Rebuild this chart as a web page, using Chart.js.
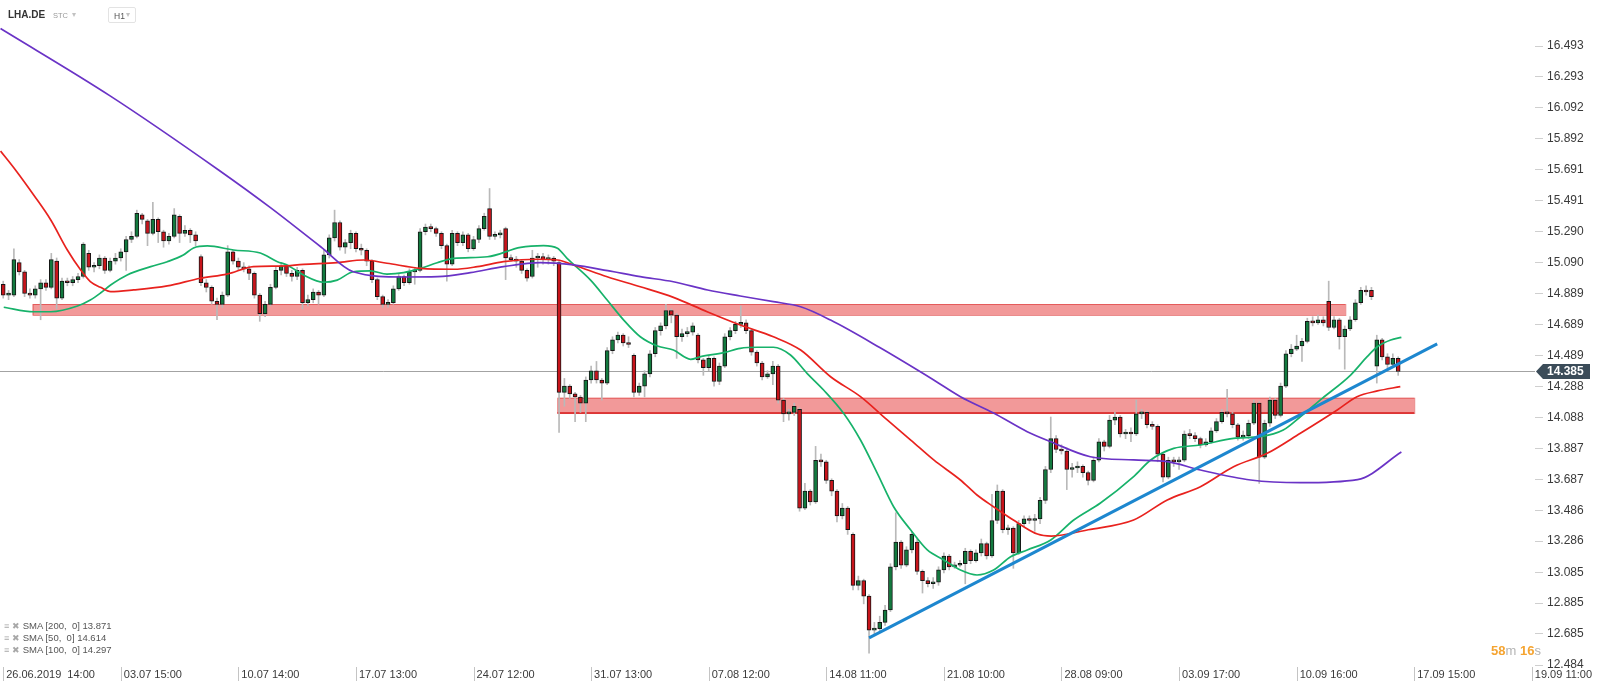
<!DOCTYPE html>
<html lang="en">
<head>
    <meta charset="UTF-8">
    <title>LHA.DE H1</title>
    <style>
        body { margin: 0; padding: 0; background: #fff; font-family: 'Liberation Sans', Arial, sans-serif; }
        .wrap { position: relative; width: 1600px; height: 690px; overflow: hidden; }
        canvas { display: block; }
        .sym { position: absolute; left: 8px; top: 9px; font-size: 10px; font-weight: bold; color: #333; }
        .stc { position: absolute; left: 53px; top: 11px; font-size: 7.5px; color: #9a9a9a; }
        .caret { position: absolute; font-size: 8px; color: #c2c2c2; }
        .tf { position: absolute; left: 108px; top: 7px; width: 28px; height: 16px; border: 1px solid #e3e3e3; border-radius: 2px; box-sizing: border-box; }
        .tf span { position: absolute; left: 5px; top: 3px; font-size: 8.5px; color: #555; }
        .legend { position: absolute; left: 4px; top: 620px; font-size: 9.5px; color: #555; line-height: 12px; }
        .legend .ico { color: #a8a8a8; font-size: 9px; margin-right: 3px; }
        .timer { position: absolute; left: 1491px; top: 643px; font-size: 13px; }
        .timer b { color: #f5a431; }
        .timer i { font-style: normal; color: #b3b3b3; }
    </style>
    <script src="https://cdn.jsdelivr.net/npm/chart.js"></script>
</head>
<body>
<div class="wrap">
    <canvas id="chart" width="1600" height="690"></canvas>
    <div class="sym">LHA.DE</div>
    <div class="stc">STC</div>
    <div class="caret" style="left:72px;top:10px;">▾</div>
    <div class="tf"><span>H1</span><div class="caret" style="left:17px;top:2px;">▾</div></div>
    <div class="legend">
        <div><span class="ico">≡ ✖</span>SMA [200,&nbsp; 0] 13.871</div>
        <div><span class="ico">≡ ✖</span>SMA [50,&nbsp; 0] 14.614</div>
        <div><span class="ico">≡ ✖</span>SMA [100,&nbsp; 0] 14.297</div>
    </div>
    <div class="timer"><b>58</b><i>m</i> <b>16</b><i>s</i></div>
</div>

<script>
// x axis: candle index, one tick label every 22 candles
const candlesPerTick = 22;
const xTickLabels = ['26.06.2019  14:00', '03.07 15:00', '10.07 14:00', '17.07 13:00', '24.07 12:00',
    '31.07 13:00', '07.08 12:00', '14.08 11:00', '21.08 10:00', '28.08 09:00', '03.09 17:00',
    '10.09 16:00', '17.09 15:00', '19.09 11:00'];
const yTicks = [16.493, 16.293, 16.092, 15.892, 15.691, 15.491, 15.290, 15.090, 14.889, 14.689,
    14.489, 14.288, 14.088, 13.887, 13.687, 13.486, 13.286, 13.085, 12.885, 12.685, 12.484];

// candles: [open, high, low, close]
const ohlc = [
    [14.95,14.97,14.86,14.88],[14.88,14.91,14.85,14.88],[14.88,15.18,14.87,15.11],[15.09,15.11,15.01,15.03],
    [15.03,15.04,14.87,14.89],[14.89,14.92,14.86,14.88],[14.88,14.94,14.86,14.92],[14.92,14.98,14.72,14.96],
    [14.96,14.98,14.91,14.93],[14.93,15.15,14.92,15.11],[15.10,15.12,14.79,14.86],[14.86,14.99,14.85,14.97],
    [14.97,14.99,14.94,14.96],[14.96,15.00,14.94,14.98],[14.98,15.02,14.96,15.00],[15.00,15.22,14.99,15.21],
    [15.15,15.17,15.04,15.06],[15.06,15.09,15.03,15.07],[15.07,15.14,15.05,15.12],[15.12,15.13,15.02,15.04],
    [15.04,15.12,15.03,15.10],[15.10,15.15,15.08,15.12],[15.12,15.18,15.10,15.16],[15.16,15.26,15.04,15.24],
    [15.24,15.29,15.22,15.26],[15.26,15.43,15.25,15.41],[15.40,15.41,15.34,15.37],[15.36,15.37,15.20,15.28],
    [15.28,15.48,15.27,15.37],[15.37,15.38,15.22,15.29],[15.29,15.30,15.19,15.23],[15.23,15.28,15.21,15.26],
    [15.26,15.44,15.25,15.40],[15.39,15.40,15.22,15.28],[15.28,15.33,15.26,15.30],[15.30,15.31,15.22,15.27],
    [15.27,15.29,15.20,15.23],[15.13,15.14,14.94,14.96],[14.96,14.98,14.90,14.93],[14.93,14.94,14.82,14.84],
    [14.84,14.86,14.72,14.82],[14.82,14.90,14.80,14.88],[14.88,15.20,14.87,15.16],[15.16,15.17,15.08,15.10],
    [15.10,15.12,15.04,15.06],[15.06,15.09,15.03,15.05],[15.05,15.07,14.98,15.02],[15.02,15.03,14.86,14.88],
    [14.88,14.89,14.71,14.76],[14.76,14.84,14.74,14.82],[14.82,14.95,14.81,14.93],[14.93,15.06,14.92,15.04],
    [15.04,15.09,15.01,15.07],[15.07,15.08,15.00,15.02],[15.02,15.04,14.97,15.00],[15.00,15.06,14.98,15.04],
    [15.04,15.05,14.79,14.83],[14.83,14.88,14.81,14.85],[14.85,14.92,14.83,14.90],[14.90,14.91,14.82,14.88],
    [14.88,15.17,14.87,15.14],[15.14,15.27,15.12,15.25],[15.25,15.43,15.23,15.35],[15.35,15.36,15.17,15.19],
    [15.19,15.24,15.15,15.22],[15.22,15.30,15.18,15.28],[15.28,15.29,15.16,15.18],[15.18,15.21,15.14,15.17],
    [15.17,15.18,15.07,15.10],[15.10,15.11,14.96,14.98],[14.98,14.99,14.85,14.87],[14.87,14.88,14.80,14.82],
    [14.82,14.85,14.80,14.83],[14.83,14.94,14.82,14.92],[14.92,15.02,14.91,15.00],[15.00,15.01,14.94,14.96],
    [14.96,15.05,14.95,15.03],[15.03,15.06,14.95,15.04],[15.04,15.31,15.03,15.29],[15.29,15.34,15.27,15.32],
    [15.32,15.34,15.29,15.31],[15.31,15.32,15.26,15.28],[15.28,15.29,15.18,15.20],[15.20,15.21,14.97,15.08],
    [15.08,15.30,15.07,15.28],[15.28,15.29,15.20,15.22],[15.22,15.29,15.20,15.27],[15.27,15.28,15.16,15.18],
    [15.18,15.26,15.17,15.24],[15.24,15.33,15.22,15.31],[15.31,15.41,15.30,15.39],[15.44,15.57,15.24,15.26],
    [15.26,15.29,15.24,15.27],[15.27,15.30,15.25,15.28],[15.31,15.32,14.98,15.12],[15.12,15.14,15.10,15.11],
    [15.11,15.13,15.06,15.10],[15.10,15.11,15.02,15.04],[15.04,15.05,14.97,14.99],[15.00,15.17,14.99,15.12],
    [15.12,15.15,15.06,15.13],[15.13,15.15,15.08,15.11],[15.11,15.14,15.08,15.12],[15.12,15.13,15.07,15.10],
    [15.09,15.10,13.99,14.25],[14.25,14.34,14.16,14.29],[14.29,14.30,14.21,14.24],[14.24,14.25,14.06,14.22],
    [14.22,14.23,14.12,14.18],[14.18,14.35,14.06,14.33],[14.33,14.42,14.31,14.39],[14.39,14.45,14.31,14.33],
    [14.33,14.34,14.20,14.31],[14.31,14.54,14.30,14.52],[14.52,14.61,14.50,14.59],[14.59,14.64,14.57,14.62],
    [14.62,14.63,14.55,14.57],[14.57,14.61,14.54,14.56],[14.49,14.50,14.22,14.25],[14.25,14.31,14.23,14.29],
    [14.29,14.39,14.22,14.37],[14.37,14.52,14.35,14.50],[14.50,14.67,14.48,14.65],[14.65,14.70,14.62,14.68],
    [14.68,14.82,14.66,14.78],[14.78,14.79,14.70,14.75],[14.75,14.76,14.47,14.61],[14.61,14.66,14.58,14.63],
    [14.63,14.67,14.61,14.64],[14.64,14.70,14.62,14.68],[14.62,14.63,14.44,14.46],[14.46,14.47,14.36,14.41],
    [14.41,14.49,14.39,14.47],[14.47,14.48,14.29,14.32],[14.32,14.44,14.30,14.42],[14.42,14.63,14.41,14.61],
    [14.61,14.67,14.59,14.65],[14.65,14.71,14.63,14.69],[14.69,14.81,14.67,14.70],[14.70,14.72,14.63,14.65],
    [14.65,14.66,14.49,14.51],[14.51,14.52,14.42,14.44],[14.44,14.45,14.33,14.35],[14.35,14.39,14.34,14.37],
    [14.37,14.45,14.30,14.42],[14.42,14.43,14.18,14.20],[14.20,14.21,14.06,14.11],[14.11,14.14,14.07,14.12],
    [14.12,14.18,14.10,14.16],[14.14,14.15,13.48,13.50],[13.50,13.66,13.49,13.61],[13.61,13.62,13.52,13.54],
    [13.54,13.90,13.53,13.81],[13.81,13.85,13.77,13.80],[13.80,13.81,13.66,13.68],[13.68,13.69,13.58,13.61],
    [13.61,13.62,13.41,13.45],[13.45,13.53,13.43,13.50],[13.50,13.51,13.33,13.36],[13.33,13.34,12.97,13.00],
    [13.00,13.06,12.97,13.03],[13.03,13.04,12.88,12.93],[12.93,12.94,12.56,12.71],[12.71,12.76,12.68,12.72],
    [12.72,12.80,12.70,12.76],[12.76,12.87,12.74,12.84],[12.84,13.14,12.83,13.12],[13.12,13.47,13.10,13.28],
    [13.28,13.29,13.11,13.13],[13.13,13.25,13.12,13.23],[13.23,13.35,13.21,13.33],[13.28,13.30,13.07,13.09],
    [13.09,13.10,12.95,13.03],[13.03,13.05,12.99,13.01],[13.01,13.05,12.98,13.02],[13.02,13.12,13.00,13.10],
    [13.10,13.21,13.08,13.19],[13.19,13.20,13.10,13.12],[13.12,13.15,13.11,13.13],[13.13,13.16,13.12,13.14],
    [13.14,13.24,13.01,13.22],[13.22,13.23,13.14,13.16],[13.16,13.23,13.15,13.21],[13.21,13.30,13.19,13.27],
    [13.27,13.28,13.17,13.19],[13.19,13.59,13.18,13.42],[13.42,13.65,13.40,13.61],[13.61,13.62,13.34,13.36],
    [13.36,13.39,13.33,13.37],[13.37,13.38,13.11,13.21],[13.21,13.42,13.20,13.40],[13.40,13.45,13.38,13.43],
    [13.43,13.45,13.40,13.42],[13.42,13.46,13.35,13.43],[13.43,13.57,13.40,13.55],[13.55,13.77,13.53,13.75],
    [13.75,14.09,13.73,13.95],[13.95,13.97,13.86,13.88],[13.88,13.91,13.85,13.87],[13.87,13.89,13.62,13.75],
    [13.75,13.79,13.70,13.76],[13.76,13.80,13.73,13.77],[13.77,13.78,13.70,13.73],[13.73,13.74,13.65,13.68],
    [13.68,13.83,13.67,13.81],[13.81,13.95,13.80,13.93],[13.93,13.94,13.87,13.90],[13.90,14.10,13.89,14.07],
    [14.07,14.12,14.04,14.09],[14.09,14.10,13.96,13.98],[13.98,14.01,13.95,13.99],[13.99,14.02,13.93,13.98],
    [13.98,14.20,13.97,14.11],[14.11,14.14,14.08,14.12],[14.12,14.13,14.02,14.04],[14.04,14.06,14.01,14.03],
    [14.03,14.04,13.80,13.85],[13.85,13.86,13.67,13.70],[13.70,13.83,13.69,13.81],[13.81,13.83,13.77,13.80],
    [13.80,13.83,13.75,13.81],[13.81,14.00,13.80,13.98],[13.98,14.01,13.95,13.97],[13.97,13.99,13.93,13.95],
    [13.95,13.96,13.89,13.91],[13.91,13.95,13.90,13.93],[13.93,14.02,13.92,14.00],[14.00,14.08,13.99,14.06],
    [14.06,14.14,14.05,14.12],[14.12,14.27,14.09,14.11],[14.11,14.12,14.02,14.04],[14.04,14.05,13.94,13.96],
    [13.96,14.00,13.94,13.97],[13.97,14.07,13.95,14.05],[14.05,14.20,14.04,14.18],[14.18,14.19,13.66,13.83],
    [13.83,14.07,13.82,14.05],[14.05,14.22,14.03,14.20],[14.20,14.21,14.08,14.10],[14.10,14.31,14.09,14.29],
    [14.29,14.52,14.28,14.50],[14.50,14.56,14.48,14.53],[14.53,14.62,14.52,14.55],[14.55,14.60,14.45,14.58],
    [14.58,14.73,14.57,14.71],[14.71,14.74,14.68,14.70],[14.70,14.75,14.69,14.72],[14.72,14.74,14.68,14.70],
    [14.84,14.97,14.65,14.67],[14.67,14.74,14.66,14.72],[14.72,14.73,14.53,14.61],[14.61,14.68,14.40,14.66],
    [14.66,14.74,14.65,14.72],[14.72,14.85,14.71,14.83],[14.83,14.93,14.82,14.91],[14.91,14.94,14.88,14.90],
    [14.91,14.93,14.85,14.87],[14.42,14.62,14.31,14.59],[14.59,14.60,14.46,14.48],[14.48,14.50,14.40,14.43],
    [14.43,14.50,14.41,14.47],[14.47,14.48,14.36,14.385]
];

// moving averages: [candle index, value]
const sma200 = [[-0.5,16.606],[20,16.17],[40.3,15.690],[50,15.446],[59.4,15.193],[65.5,15.031],[74.9,14.997],
    [81.3,14.999],[87.4,15.025],[93.6,15.064],[100.5,15.090],[106.7,15.075],[113.1,15.038],[119.2,14.999],
    [125.4,14.966],[131.8,14.913],[137.9,14.874],[144.1,14.837],[149.2,14.804],[154.8,14.718],[164,14.54],
    [174.1,14.330],[179.1,14.222],[185.3,14.116],[191.6,13.995],[196,13.930],[203.4,13.833],[211.5,13.812],
    [217.8,13.801],[224,13.747],[233.4,13.682],[242.7,13.665],[253.4,13.685],[261.6,13.863]];
const sma50 = [[0.1,14.801],[5.7,14.772],[8.9,14.772],[13.9,14.809],[16.3,14.848],[18.2,14.893],[20.1,14.945],
    [23.2,15.010],[27.6,15.064],[30.7,15.096],[33.7,15.139],[35.6,15.185],[38.2,15.198],[43.1,15.172],
    [48.1,15.152],[51.3,15.096],[53.1,15.075],[56.2,15.010],[59.9,14.963],[62.5,14.977],[65.5,15.031],
    [68.7,15.036],[71.8,15.016],[74.9,15.025],[78.1,15.053],[81.2,15.089],[84.3,15.118],[90.6,15.128],
    [96.8,15.189],[101.1,15.200],[103.7,15.183],[105.5,15.118],[109.9,14.977],[113,14.848],[116.1,14.718],
    [119.2,14.610],[122.4,14.550],[125.4,14.524],[128.6,14.464],[130.5,14.481],[134.8,14.507],[137.9,14.535],
    [141.1,14.542],[144.1,14.542],[147.3,14.492],[150.4,14.373],[153.5,14.265],[157.2,14.116],[160.4,13.941],
    [163.5,13.728],[166.6,13.509],[169.8,13.358],[172.9,13.229],[176,13.164],[179.1,13.099],[182.2,13.067],
    [185.3,13.099],[188.5,13.185],[191.6,13.229],[196,13.294],[200.3,13.423],[205.3,13.533],[211.5,13.704],
    [214.7,13.812],[219,13.887],[224,13.909],[230.2,13.952],[235.2,13.963],[239.5,14.006],[242.7,14.092],
    [246.8,14.211],[252.1,14.362],[255.2,14.481],[257.1,14.545],[259.6,14.589],[261.6,14.606]];
const sma100 = [[-0.5,15.813],[2.3,15.690],[5.7,15.528],[8.9,15.366],[12,15.172],[14.5,15.042],[16.3,14.967],
    [18.2,14.930],[20.1,14.902],[24.4,14.913],[30.7,14.939],[36.9,14.989],[41.9,15.016],[46.8,15.064],
    [51.9,15.068],[56.2,15.079],[62.5,15.090],[67.4,15.107],[71.8,15.086],[78.1,15.053],[84.3,15.047],
    [88.7,15.064],[93.6,15.096],[99.9,15.112],[103.7,15.107],[106.7,15.075],[113,14.999],[119.2,14.934],
    [125.4,14.865],[131.7,14.772],[137.9,14.686],[144.1,14.610],[149.2,14.524],[154.8,14.351],[160.4,14.222],
    [165.4,14.071],[169.8,13.941],[174.1,13.812],[179.1,13.682],[182.2,13.585],[185.3,13.509],[189,13.423],
    [193.5,13.332],[196.1,13.319],[203,13.36],[211.5,13.423],[217.8,13.553],[224,13.639],[230.2,13.768],
    [236.5,13.855],[242.7,13.985],[249.6,14.136],[253.3,14.222],[257.1,14.259],[261.4,14.287]];
const trendLine = [[162.0,12.660],[268.3,14.564]];

// shaded zones: [from index, to index, top price, bottom price]
const zones = [[5.5,251.1,14.822,14.751],[103.7,264.0,14.215,14.116]];
const lastPrice = 14.385;

const upColor = '#137a3f';
const downColor = '#c8141b';

const overlay = {
    id: 'overlay',
    beforeDatasetsDraw(chart) {
        const { ctx, chartArea: a, scales: { x, y } } = chart;
        ctx.save();
        zones.forEach((z, k) => {
            const x0 = x.getPixelForValue(z[0]), x1 = x.getPixelForValue(z[1]);
            const y0 = y.getPixelForValue(z[2]), y1 = y.getPixelForValue(z[3]);
            ctx.fillStyle = 'rgba(230,60,60,0.52)';
            ctx.fillRect(x0, y0, x1 - x0, y1 - y0);
            ctx.strokeStyle = 'rgba(215,40,40,0.55)';
            ctx.lineWidth = 1;
            ctx.strokeRect(x0 + 0.5, y0 + 0.5, x1 - x0, y1 - y0);
            if (k === 1) {
                ctx.strokeStyle = '#d81b1b';
                ctx.lineWidth = 1.5;
                ctx.beginPath();
                ctx.moveTo(x0, y1);
                ctx.lineTo(x1, y1);
                ctx.stroke();
            }
        });
        const py = Math.round(y.getPixelForValue(lastPrice)) + 0.5;
        ctx.strokeStyle = '#a3a3a3';
        ctx.lineWidth = 1;
        ctx.beginPath();
        ctx.moveTo(a.left, py);
        ctx.lineTo(a.right, py);
        ctx.stroke();
        ctx.restore();
    },
    afterDraw(chart) {
        const { ctx, chartArea: a, scales: { x, y } } = chart;
        ctx.save();
        // x tick marks beside the labels
        ctx.strokeStyle = '#c4c4c4';
        ctx.lineWidth = 1;
        x.ticks.forEach(t => {
            const px = Math.round(x.getPixelForValue(t.value)) + 0.5;
            ctx.beginPath();
            ctx.moveTo(px, a.bottom + 2);
            ctx.lineTo(px, a.bottom + 16);
            ctx.stroke();
        });
        // last price tag
        const py = y.getPixelForValue(lastPrice);
        ctx.fillStyle = '#3b4c59';
        ctx.beginPath();
        ctx.moveTo(a.right + 1, py);
        ctx.lineTo(a.right + 8, py - 7.5);
        ctx.lineTo(a.right + 55, py - 7.5);
        ctx.lineTo(a.right + 55, py + 7.5);
        ctx.lineTo(a.right + 8, py + 7.5);
        ctx.closePath();
        ctx.fill();
        ctx.fillStyle = '#fff';
        ctx.font = 'bold 12px "Liberation Sans", Arial, sans-serif';
        ctx.textBaseline = 'middle';
        ctx.fillText(lastPrice.toFixed(3), a.right + 12, py + 0.5);
        ctx.restore();
    }
};

new Chart(document.getElementById('chart'), {
    type: 'bar',
    data: {
        datasets: [
            {
                label: 'wicks',
                data: ohlc.map((c, i) => ({ x: i, y: [c[2], c[1]] })),
                backgroundColor: '#b9b9b9',
                barThickness: 1,
                grouped: false,
                order: 5
            },
            {
                label: 'bodies',
                data: ohlc.map((c, i) => ({ x: i, y: [c[0], c[3]] })),
                backgroundColor: ohlc.map(c => c[3] >= c[0] ? upColor : downColor),
                borderColor: '#161616',
                borderWidth: 1,
                borderSkipped: false,
                barThickness: 4,
                minBarLength: 2,
                grouped: false,
                order: 4
            },
            {
                type: 'line', label: 'SMA 200',
                data: sma200.map(p => ({ x: p[0], y: p[1] })),
                borderColor: '#6a33c6', borderWidth: 1.7, pointRadius: 0,
                cubicInterpolationMode: 'monotone', order: 3
            },
            {
                type: 'line', label: 'SMA 100',
                data: sma100.map(p => ({ x: p[0], y: p[1] })),
                borderColor: '#e8221e', borderWidth: 1.7, pointRadius: 0,
                cubicInterpolationMode: 'monotone', order: 3
            },
            {
                type: 'line', label: 'SMA 50',
                data: sma50.map(p => ({ x: p[0], y: p[1] })),
                borderColor: '#17b26a', borderWidth: 1.7, pointRadius: 0,
                cubicInterpolationMode: 'monotone', order: 3
            },
            {
                type: 'line', label: 'trend',
                data: trendLine.map(p => ({ x: p[0], y: p[1] })),
                borderColor: '#1d87cf', borderWidth: 3, pointRadius: 0,
                order: 2
            }
        ]
    },
    options: {
        responsive: false,
        animation: false,
        layout: { padding: 0 },
        plugins: { legend: { display: false }, tooltip: { enabled: false } },
        scales: {
            x: {
                type: 'linear',
                min: -0.6,
                max: 286.6,
                offset: false,
                grid: { display: false, drawTicks: false },
                border: { display: false },
                ticks: {
                    align: 'start',
                    labelOffset: 3,
                    padding: 3,
                    autoSkip: false,
                    maxRotation: 0,
                    color: '#3a3a3a',
                    font: { family: '"Liberation Sans", Arial, sans-serif', size: 11 },
                    callback: (v, idx) => xTickLabels[idx]
                },
                afterBuildTicks: s => { s.ticks = xTickLabels.map((l, k) => ({ value: k * candlesPerTick })); },
                afterFit: s => { s.height = 25; s.paddingLeft = 0; s.paddingRight = 0; }
            },
            y: {
                type: 'linear',
                position: 'right',
                min: 12.484,
                max: 16.791,
                bounds: 'data',
                grid: { drawOnChartArea: false, drawTicks: true, tickLength: 8, color: '#cfcfcf' },
                border: { display: false },
                ticks: {
                    padding: 4,
                    autoSkip: false,
                    color: '#3a3a3a',
                    font: { family: '"Liberation Sans", Arial, sans-serif', size: 12 },
                    callback: v => v.toFixed(3)
                },
                afterBuildTicks: s => { s.ticks = yTicks.slice().reverse().map(v => ({ value: v })); },
                afterFit: s => { s.width = 65; s.paddingTop = 0; s.paddingBottom = 0; }
            }
        }
    },
    plugins: [overlay]
});
</script>
</body>
</html>
